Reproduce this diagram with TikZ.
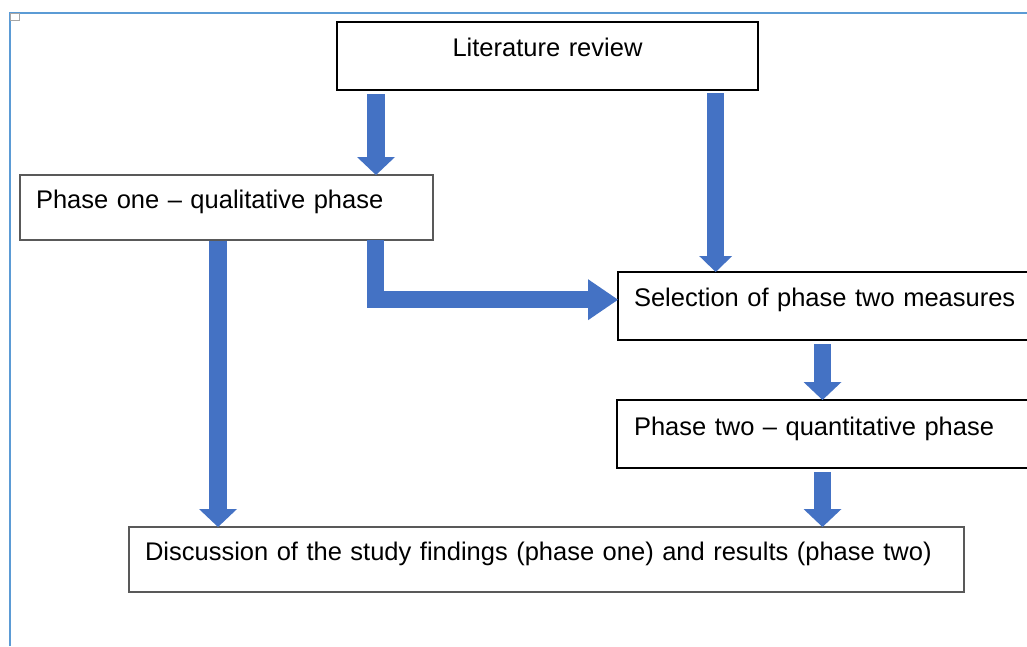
\documentclass[tikz,border=0pt]{standalone}
\usepackage{fontspec}
\setmainfont{Liberation Sans}
\usetikzlibrary{arrows.meta}
\definecolor{flowblue}{HTML}{4472C4}
\definecolor{frameblue}{HTML}{5B9BD5}
\definecolor{boxgrey}{HTML}{595959}
\tikzset{
	stage/.style={draw,anchor=north west,outer sep=0pt,inner ysep=0pt,inner xsep=16pt,align=left,font=\fontsize{25.5}{30}\selectfont},
	flow/.style={draw=flowblue,line width=17.5pt,-{Triangle[width=38pt,length=18pt,line width=0pt]}},
}
\begin{document}
\begin{tikzpicture}[x=1pt,y=-1pt]
	\useasboundingbox (0,0) rectangle (1027,646);
	\draw[frameblue,line width=1.5pt] (10,646) -- (10,13) -- (1027,13);
	\draw[gray!70,line width=0.6pt] (10,13) rectangle (19,20);
	\node[stage,line width=2.2pt,inner xsep=0pt,text width=421pt,align=center,text height=34pt,text depth=34pt] (lit) at (337,22) {Literature review};
	\node[stage,draw=boxgrey,line width=1.2pt,text width=381pt,text height=33pt,text depth=32pt] (one) at (20,175) {Phase one – qualitative phase};
	\node[stage,line width=1.4pt,text width=390pt,text height=34pt,text depth=34pt] (sel) at (618,272) {Selection of phase two measures};
	\node[stage,line width=2pt,inner xsep=17pt,text width=389pt,text height=35pt,text depth=33pt] (two) at (617,400) {Phase two – quantitative phase};
	\node[stage,draw=boxgrey,line width=1.2pt,text width=803pt,text height=33pt,text depth=32pt] (disc) at (129,527) {Discussion of the study findings (phase one) and results (phase two)};
	\coordinate (c1) at (376,0);
	\coordinate (c2) at (715.7,0);
	\coordinate (c3) at (218,0);
	\coordinate (c4) at (375,0);
	\coordinate (c5) at (822.5,0);
	\draw[flow,shorten <=4pt] (lit.south -| c1) -- (one.north -| c1);
	\draw[flow,line width=16.7pt,shorten <=3pt,-{Triangle[width=33pt,length=16pt,line width=0pt]}] (lit.south -| c2) -- (sel.north -| c2);
	\draw[flow,shorten <=1pt] (one.south -| c3) -- (disc.north -| c3);
	\draw[flow,line width=17pt,-{Triangle[width=41pt,length=30pt,line width=0pt]}] (one.south -| c4) |- ([yshift=6.3pt]sel.west);
	\draw[flow,shorten <=4pt] (sel.south -| c5) -- (two.north -| c5);
	\draw[flow,shorten <=4pt] (two.south -| c5) -- (disc.north -| c5);
\end{tikzpicture}
\end{document}
